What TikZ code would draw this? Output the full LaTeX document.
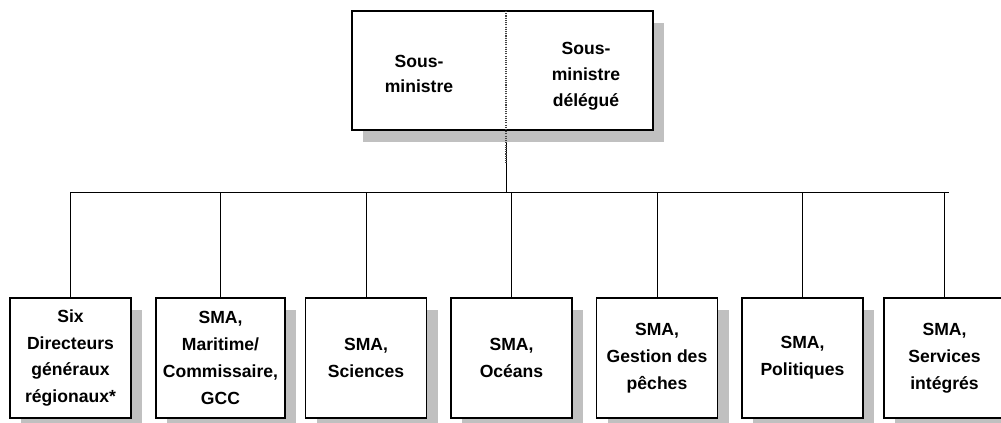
\documentclass[tikz,border=0pt]{standalone}
\usepackage{fontspec}
\setmainfont{Liberation Sans}
\usetikzlibrary{positioning,shadows}
\pgfdeclarelayer{background}
\pgfsetlayers{background,main}
\definecolor{shadowgrey}{RGB}{192,192,192}
\tikzset{
    unit/.style={rectangle, draw=black, line width=1.1pt, fill=white, minimum width=3.63cm, minimum height=3.6cm, align=center, font=\fontsize{15}{23}\selectfont\bfseries, drop shadow={shadow xshift=0.33cm, shadow yshift=-0.36cm, fill=shadowgrey, opacity=1, draw=none}},
    headbox/.style={unit, minimum width=9.03cm, minimum height=3.57cm},
    headtext/.style={align=center, font=\fontsize{15}{22}\selectfont\bfseries},
    link/.style={line width=0.8pt, black},
    divider/.style={line width=0.9pt, black!75, densely dotted},
}

\begin{document}
\begin{tikzpicture}[x=0.03cm,y=-0.03cm]
    \useasboundingbox (0,0) rectangle (1001,423);
    % top box, split in two
    \node[headbox] (dm) at (502.5,70.5) {};
    \node[headtext] (sm) at (419,74) {Sous-\\ministre};
    \node[headtext] (smd) at (586,76) {Sous-\\ministre\\délégué};
    \coordinate (split) at (506,11);
    \coordinate (splitend) at (506,163);
    \coordinate (bar) at (506,192);
    \draw[divider] (split) -- (splitend);
    % bottom row
    \node[unit] (rdg) at (70.5,358) {Six\\Directeurs\\généraux\\régionaux*};
    \node[unit, minimum width=3.87cm] (mar) at (220.5,358) {SMA,\\Maritime/\\Commissaire,\\GCC};
    \node[unit] (sci) at (366,358) {SMA,\\Sciences};
    \node[unit] (oce) at (511.5,358) {SMA,\\Océans};
    \node[unit] (gp) at (657,358) {SMA,\\Gestion des\\pêches};
    \node[unit] (pol) at (802.5,358) {SMA,\\Politiques};
    \node[unit] (si) at (944.5,358) {SMA,\\Services\\intégrés};
    % connectors
    \begin{pgfonlayer}{background}
    \draw[link] (split |- dm.south) -- (bar);
    \draw[link] (rdg.north |- bar) -- ([xshift=0.12cm]si.north |- bar);
    \draw[link] (rdg.north) -- (rdg.north |- bar);
    \draw[link] (mar.north) -- (mar.north |- bar);
    \draw[link] (sci.north) -- (sci.north |- bar);
    \draw[link] (oce.north) -- (oce.north |- bar);
    \draw[link] (gp.north) -- (gp.north |- bar);
    \draw[link] (pol.north) -- (pol.north |- bar);
    \draw[link] (si.north) -- (si.north |- bar);
    \end{pgfonlayer}
\end{tikzpicture}
\end{document}
